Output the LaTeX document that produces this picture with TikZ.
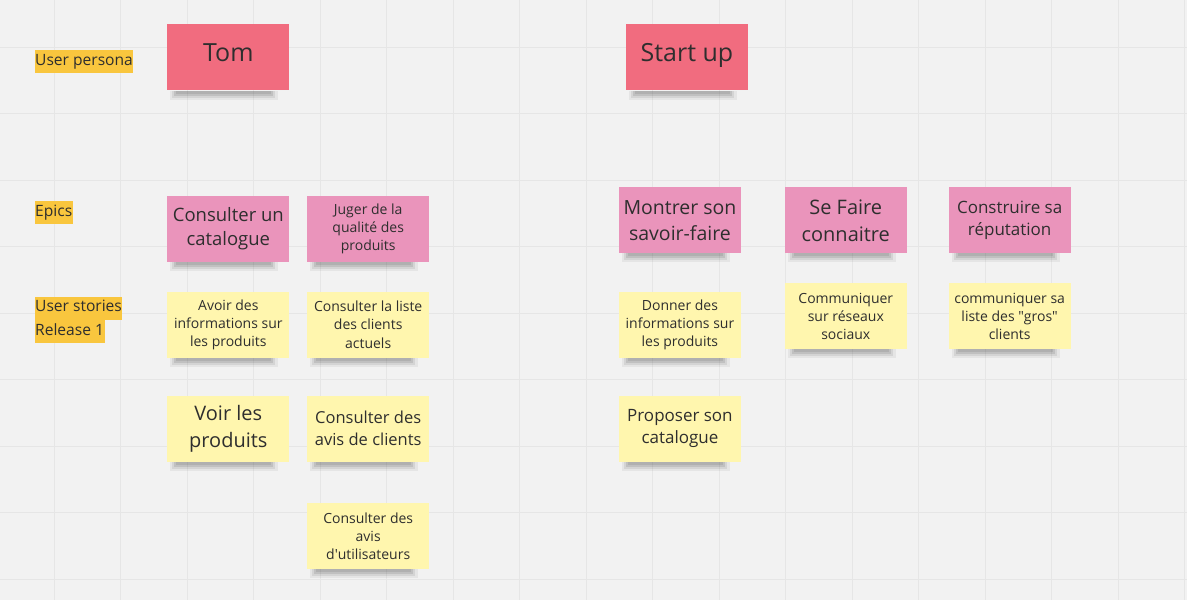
\documentclass[tikz,border=0pt]{standalone}
\usepackage{fontspec}
\setmainfont{Open Sans}
\usepackage{tikz}
\usetikzlibrary{positioning}
\definecolor{board}{HTML}{F2F2F2}
\definecolor{gridcol}{HTML}{E6E6E6}
\definecolor{redpost}{HTML}{F16C7F}
\definecolor{pinkpost}{HTML}{EA94BB}
\definecolor{yellowpost}{HTML}{FFF6AE}
\definecolor{highlight}{HTML}{F9C63E}
\definecolor{ink}{HTML}{2E2E2E}
% soft shadow under the bottom edge of a sticky note
\newcommand{\noteshadow}[1]{%
\fill[black, opacity=0.05] ([xshift=3pt]#1.south west) rectangle ([xshift=-11pt, yshift=-9pt]#1.south east);
\fill[black, opacity=0.07] ([xshift=5pt]#1.south west) rectangle ([xshift=-14pt, yshift=-7pt]#1.south east);
\fill[black, opacity=0.09] ([xshift=7pt]#1.south west) rectangle ([xshift=-16pt, yshift=-5pt]#1.south east);
\fill[black, opacity=0.08] ([xshift=9pt]#1.south west) rectangle ([xshift=-18pt, yshift=-3pt]#1.south east);}
\tikzstyle{postit} = [rectangle, minimum width=122pt, minimum height=66pt, inner sep=2pt, align=center, text=ink, append after command={\pgfextra{\noteshadow{\tikzlastnode}}}]
\tikzstyle{persona} = [postit, fill=redpost, font=\fontsize{25}{30}\selectfont]
\tikzstyle{epic} = [postit, fill=pinkpost]
\tikzstyle{story} = [postit, fill=yellowpost]
\tikzstyle{rowlabel} = [anchor=west, fill=highlight, text=ink, inner xsep=0.5pt, inner ysep=0pt, minimum height=23pt, text height=11.5pt, text depth=4pt, font=\fontsize{15.6}{18}\selectfont]
\tikzstyle{small} = [font=\fontsize{14}{18.2}\selectfont]
\tikzstyle{mid} = [font=\fontsize{17}{22.5}\selectfont]
\tikzstyle{large} = [font=\fontsize{19.5}{26}\selectfont]
\begin{document}
\begin{tikzpicture}[x=1pt, y=-1pt, node distance=140pt]
\fill[board] (0,0) rectangle (1187,600);
\foreach \i in {0,...,17} \draw[gridcol, line width=1pt] (54+66.55*\i,0) -- (54+66.55*\i,600);
\foreach \j in {0,...,8} \draw[gridcol, line width=1pt] (0,47+66.5*\j) -- (1187,47+66.5*\j);
\useasboundingbox (0,0) rectangle (1187,600);

% row labels
\node (userpersona) [rowlabel] at (34,61) {User persona};
\node (epics) [rowlabel] at (34,212) {Epics};
\node (userstories) [rowlabel] at (34,308) {User stories};
\node (release) [rowlabel, anchor=north west] at (userstories.south west) {Release 1};

% personas
\node (tom) [persona, text depth=9pt] at (228,57) {Tom};
\node (startup) [persona, text depth=9pt] at (687,57) {Start up};

% Tom
\node (catalogue) [epic, font=\fontsize{18.5}{24}\selectfont] at (228,228.5) {Consulter un\\catalogue};
\node (juger) [epic, small, right of=catalogue] {Juger de la\\qualit\'e des\\produits};
\node (avoir) [story, small, below of=catalogue, yshift=44pt] {Avoir des\\informations sur\\les produits};
\node (liste) [story, small, right of=avoir] {Consulter la liste\\des clients\\actuels};
\node (voir) [story, font=\fontsize{20}{27}\selectfont, below of=avoir, yshift=36pt] {Voir les\\produits};
\node (avisclients) [story, font=\fontsize{16.5}{22}\selectfont, right of=voir] {Consulter des\\avis de clients};
\node (avisusers) [story, small, below of=avisclients, yshift=32.5pt] {Consulter des\\avis\\d\textquotesingle utilisateurs};

% Start up
\node (montrer) [epic, large] at (680,220) {Montrer son\\savoir-faire};
\node (sefaire) [epic, font=\fontsize{20}{27}\selectfont, right of=montrer, xshift=26pt] {Se Faire\\connaitre};
\node (construire) [epic, mid, right of=sefaire, xshift=24pt] {Construire sa\\r\'eputation};
\node (donner) [story, small, below of=montrer, yshift=35.5pt] {Donner des\\informations sur\\les produits};
\node (proposer) [story, mid, below of=donner, yshift=36pt] {Proposer son\\catalogue};
\node (reseaux) [story, small, below of=sefaire, yshift=44pt] {Communiquer\\sur r\'eseaux\\sociaux};
\node (gros) [story, small, below of=construire, yshift=44pt] {communiquer sa\\liste des \textquotedbl gros\textquotedbl\\clients};
\end{tikzpicture}
\end{document}
